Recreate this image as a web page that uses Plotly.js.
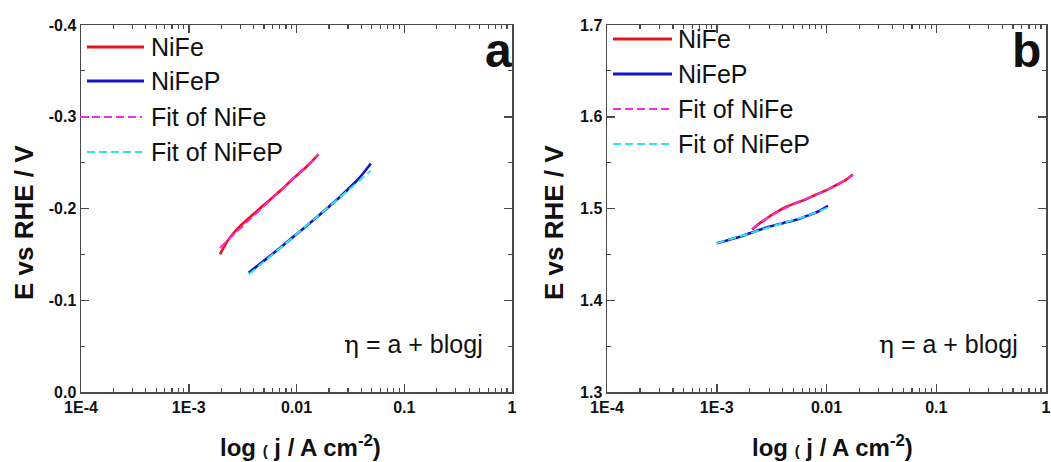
<!DOCTYPE html>
<html>
<head>
<meta charset="utf-8">
<script src="https://cdn.plot.ly/plotly-3.0.1.min.js"></script>
<style>html,body{margin:0;padding:0;background:#fff;}#chart{width:1051px;height:462px;}</style>
</head>
<body>
<div id="chart"></div>
<script>
// ---------- data ----------
// panel a
const aNiFeX   = [0.00195, 0.0021, 0.0023, 0.0026, 0.003, 0.0035, 0.004, 0.005, 0.006, 0.0075, 0.009, 0.011, 0.013, 0.016];
const aNiFeY   = [-0.150, -0.157, -0.165, -0.173, -0.181, -0.188, -0.194, -0.204, -0.212, -0.222, -0.231, -0.240, -0.248, -0.259];
const aNiFePX  = [0.0036, 0.0045, 0.0055, 0.007, 0.0085, 0.01, 0.013, 0.016, 0.02, 0.025, 0.03, 0.036, 0.042, 0.049];
const aNiFePY  = [-0.130, -0.139, -0.147, -0.157, -0.165, -0.172, -0.183, -0.192, -0.202, -0.212, -0.221, -0.230, -0.239, -0.249];
const aFitNiFeX  = [0.00194, 0.004, 0.008, 0.016];
const aFitNiFeY  = [-0.157, -0.192, -0.225, -0.259];
const aFitNiFePX = [0.0036, 0.01, 0.02, 0.049];
const aFitNiFePY = [-0.128, -0.172, -0.202, -0.241];
// panel b
const bNiFeX   = [0.0021, 0.0024, 0.0027, 0.003, 0.0035, 0.004, 0.005, 0.0065, 0.008, 0.01, 0.012, 0.0145, 0.0174];
const bNiFeY   = [1.477, 1.483, 1.487, 1.491, 1.496, 1.500, 1.505, 1.510, 1.515, 1.520, 1.525, 1.530, 1.537];
const bNiFePX  = [0.001, 0.0013, 0.0016, 0.002, 0.0025, 0.003, 0.004, 0.005, 0.006, 0.007, 0.0085, 0.0103];
const bNiFePY  = [1.462, 1.466, 1.469, 1.473, 1.477, 1.480, 1.484, 1.487, 1.490, 1.493, 1.497, 1.503];
const bFitNiFeX  = [0.0021, 0.003, 0.004, 0.006, 0.01, 0.0174];
const bFitNiFeY  = [1.478, 1.491, 1.499, 1.509, 1.520, 1.536];
const bFitNiFePX = [0.001, 0.002, 0.004, 0.007, 0.0103];
const bFitNiFePY = [1.462, 1.473, 1.484, 1.493, 1.501];

// ticks
const xTickVals = [1e-4, 1e-3, 1e-2, 1e-1, 1];
const xTickText = ['1E-4', '1E-3', '0.01', '0.1', '1'];
const aYTickVals = [-0.4, -0.3, -0.2, -0.1, 0];
const aYTickText = ['-0.4', '-0.3', '-0.2', '-0.1', '0.0'];
const bYTickVals = [1.3, 1.4, 1.5, 1.6, 1.7];
const bYTickText = ['1.3', '1.4', '1.5', '1.6', '1.7'];

// legend
const seriesNames = ['NiFe', 'NiFeP', 'Fit of NiFe', 'Fit of NiFeP'];
const seriesColors = ['#e8141c', '#1414c8', '#f030e6', '#2ce6e6'];
const seriesDash = ['solid', 'solid', '8px,4px', '8px,4px'];
const seriesWidth = [2.6, 2.6, 2, 2];

// ---------- build ----------
const FONT = 'Liberation Sans, Arial, Helvetica, sans-serif';
function tr(x, y, i, xa, ya) {
  return {x: x, y: y, xaxis: xa, yaxis: ya, type: 'scatter', mode: 'lines', name: seriesNames[i],
    line: {color: seriesColors[i], width: seriesWidth[i], dash: seriesDash[i], shape: 'spline'},
    showlegend: false, hoverinfo: 'x+y+name'};
}
const data = [
  tr(aNiFeX, aNiFeY, 0, 'x', 'y'),
  tr(aNiFePX, aNiFePY, 1, 'x', 'y'),
  tr(aFitNiFeX, aFitNiFeY, 2, 'x', 'y'),
  tr(aFitNiFePX, aFitNiFePY, 3, 'x', 'y'),
  tr(bNiFeX, bNiFeY, 0, 'x2', 'y2'),
  tr(bNiFePX, bNiFePY, 1, 'x2', 'y2'),
  tr(bFitNiFeX, bFitNiFeY, 2, 'x2', 'y2'),
  tr(bFitNiFePX, bFitNiFePY, 3, 'x2', 'y2')
];

const W = 1051, H = 462;
const px = v => v / W;
const py = v => 1 - v / H;
const axisCol = '#4a4a4a';

function xAxis(d0, d1, anchor) {
  return {type: 'log', range: [-4, 0], domain: [px(d0), px(d1)], anchor: anchor,
    tickmode: 'array', tickvals: xTickVals, ticktext: xTickText, ticklabeloverflow: 'allow',
    ticks: 'inside', ticklen: 8, tickwidth: 1.5, tickcolor: axisCol,
    showline: true, linecolor: axisCol, linewidth: 1.5, mirror: 'ticks',
    showgrid: false, zeroline: false,
    tickfont: {family: FONT, size: 16, weight: 700, color: '#111'},
    minor: {ticks: 'inside', ticklen: 4, tickwidth: 1.2, tickcolor: axisCol, dtick: 'D1', showgrid: false}};
}
function yAxis(range, tv, tt, anchor) {
  return {range: range, domain: [py(392), py(25)], anchor: anchor,
    tickmode: 'array', tickvals: tv, ticktext: tt, ticklabeloverflow: 'allow',
    ticks: 'inside', ticklen: 8, tickwidth: 1.5, tickcolor: axisCol,
    showline: true, linecolor: axisCol, linewidth: 1.5, mirror: 'ticks',
    showgrid: false, zeroline: false,
    tickfont: {family: FONT, size: 16, weight: 700, color: '#111'},
    minor: {ticks: 'inside', ticklen: 4, tickwidth: 1.2, tickcolor: axisCol, dtick: 0.05, tick0: 0, showgrid: false}};
}

const shapes = [];
const annotations = [];
function addLegend(lineX0, lineX1, textX, ys) {
  seriesNames.forEach((n, i) => {
    const x0 = (i === 2 && lineX0 < 100) ? lineX0 - 7 : lineX0;
    shapes.push({type: 'line', xref: 'paper', yref: 'paper', x0: px(x0), x1: px(i < 2 ? lineX1 : lineX1 - 2),
      y0: py(ys[i]), y1: py(ys[i]),
      line: {color: seriesColors[i], width: i < 2 ? 3 : 2, dash: i < 2 ? 'solid' : '8px,4px'}});
    annotations.push({xref: 'paper', yref: 'paper', x: px(textX), y: py(ys[i]), xanchor: 'left', yanchor: 'middle',
      text: n, showarrow: false, font: {family: FONT, size: 25, color: '#111'}});
  });
}
addLegend(87, 144, 149, [47, 81, 117, 152]);
addLegend(613, 672, 676, [39, 74, 109, 144]);

function addText(x, y, text, size, bold, angle) {
  annotations.push({xref: 'paper', yref: 'paper', x: px(x), y: py(y), xanchor: 'center', yanchor: 'middle',
    text: text, showarrow: false, textangle: angle || 0,
    font: {family: FONT, size: size, weight: bold ? 700 : 400, color: '#111'}});
}
addText(498, 50, 'a', 48, true);
addText(1026, 50, 'b', 48, true);
addText(413, 344, '<span style="font-family:DejaVu Serif">η</span> = a + blogj', 25, false);
addText(948, 344, '<span style="font-family:DejaVu Serif">η</span> = a + blogj', 25, false);
const xTitle = 'log <span style="font-size:15px">(</span> j / A cm<sup>-2</sup>)';
addText(300, 446, xTitle, 24, true);
addText(832, 446, xTitle, 24, true);
addText(24, 223, 'E vs RHE / V', 26, true, -90);
addText(554, 223, 'E vs RHE / V', 26, true, -90);

const layout = {
  width: W, height: H, margin: {l: 0, r: 0, t: 0, b: 0},
  paper_bgcolor: '#fff', plot_bgcolor: '#fff', showlegend: false,
  font: {family: FONT},
  xaxis: xAxis(81, 512, 'y'),
  yaxis: yAxis([0, -0.4], aYTickVals, aYTickText, 'x'),
  xaxis2: xAxis(607, 1046, 'y2'),
  yaxis2: yAxis([1.3, 1.7], bYTickVals, bYTickText, 'x2'),
  shapes: shapes, annotations: annotations
};
Plotly.newPlot('chart', data, layout, {displayModeBar: false, staticPlot: true});
</script>
</body>
</html>
